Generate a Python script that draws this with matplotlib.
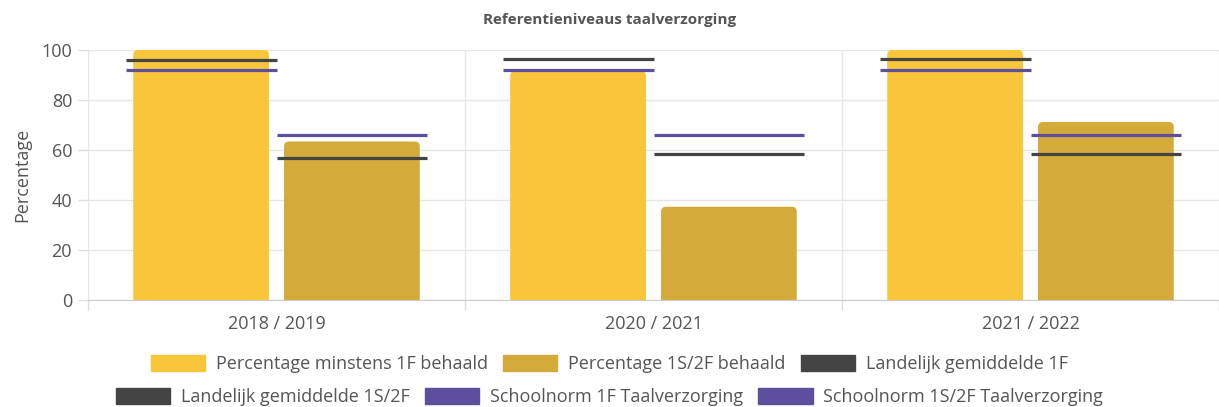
import matplotlib
matplotlib.use("Agg")
import matplotlib.pyplot as plt
from matplotlib.patches import Patch, FancyBboxPatch
import numpy as np

categories = ["2018 / 2019", "2020 / 2021", "2021 / 2022"]
pct_1f = [100, 91.6, 100]
pct_1s2f = [63.4, 37.3, 71.2]
landelijk_1f = [96, 96.4, 96.4]
landelijk_1s2f = [57, 58.4, 58.4]
schoolnorm_1f = [92, 92, 92]
schoolnorm_1s2f = [66, 66, 66]

c_1f = "#F9C53B"
c_1s = "#D4AA3A"
c_land = "#444444"
c_school = "#5E4F9E"
txt = "#555555"

plt.rcParams['font.family'] = ['Open Sans', 'DejaVu Sans']

W, H = 1219, 407
fig = plt.figure(figsize=(W / 100, H / 100), dpi=100)
ax = fig.add_axes([88 / W, 107 / H, 1 - 88 / W, 250 / H])
ax.set_xlim(-0.5, 2.5)
ax.set_ylim(0, 100)

x = np.arange(len(categories))
bw = 0.36
px_x = (W - 88) / 3.0
px_y = 250 / 100.0
r = 5 / px_x
aspect = px_x / px_y


def rbar(xc, val, color):
    p = FancyBboxPatch((xc - bw / 2, -3), bw, val + 3,
                       boxstyle=f"round,pad=0,rounding_size={r}",
                       mutation_aspect=aspect, fc=color, ec='none', zorder=2,
                       clip_on=True)
    ax.add_patch(p)


for xi, v in zip(x, pct_1f):
    rbar(xi - 0.2, v, c_1f)
for xi, v in zip(x, pct_1s2f):
    rbar(xi + 0.2, v, c_1s)

ax.hlines(landelijk_1f, x - 0.4, x, color=c_land, lw=2.3, zorder=3)
ax.hlines(schoolnorm_1f, x - 0.4, x, color=c_school, lw=2.3, zorder=3)
ax.hlines(landelijk_1s2f, x, x + 0.4, color=c_land, lw=2.3, zorder=3)
ax.hlines(schoolnorm_1s2f, x, x + 0.4, color=c_school, lw=2.3, zorder=3)

ax.set_yticks(np.arange(0, 101, 20))
ax.set_xticks(x)
ax.set_xticklabels(categories)
ax.set_xticks([-0.5, 0.5, 1.5, 2.5], minor=True)
ax.tick_params(axis='x', which='major', length=0, pad=11, labelsize=13, labelcolor=txt)
ax.tick_params(axis='x', which='minor', length=7.5, color='#dddddd', width=1)
ax.tick_params(axis='y', length=7.5, color='#dddddd', width=1, pad=4, labelsize=13, labelcolor=txt)
ax.grid(axis='y', color='#e6e6e6', lw=1, zorder=0)
ax.grid(axis='x', which='minor', color='#e6e6e6', lw=1, zorder=0)
for s in ['top', 'right', 'left']:
    ax.spines[s].set_visible(False)
ax.spines['bottom'].set_color('#cccccc')
ax.set_ylabel("Percentage", fontsize=13, color=txt, labelpad=7)

fig.text(0.5, 1 - 20 / H, "Referentieniveaus taalverzorging", ha='center', va='center',
         fontsize=11, fontweight='bold', color=txt)

labels1 = ["Percentage minstens 1F behaald", "Percentage 1S/2F behaald", "Landelijk gemiddelde 1F"]
cols1 = [c_1f, c_1s, c_land]
labels2 = ["Landelijk gemiddelde 1S/2F", "Schoolnorm 1F Taalverzorging", "Schoolnorm 1S/2F Taalverzorging"]
cols2 = [c_land, c_school, c_school]

kw = dict(loc='center', ncol=3, frameon=False, fontsize=13, handlelength=3.0, handleheight=0.95,
          handletextpad=0.6, columnspacing=0.85, labelcolor=txt)
fig.legend([Patch(color=c) for c in cols1], labels1, bbox_to_anchor=(0.5, 1 - 364 / H), **kw)
fig.legend([Patch(color=c) for c in cols2], labels2, bbox_to_anchor=(0.5, 1 - 397 / H), **kw)

fig.savefig("out.png", dpi=100)
